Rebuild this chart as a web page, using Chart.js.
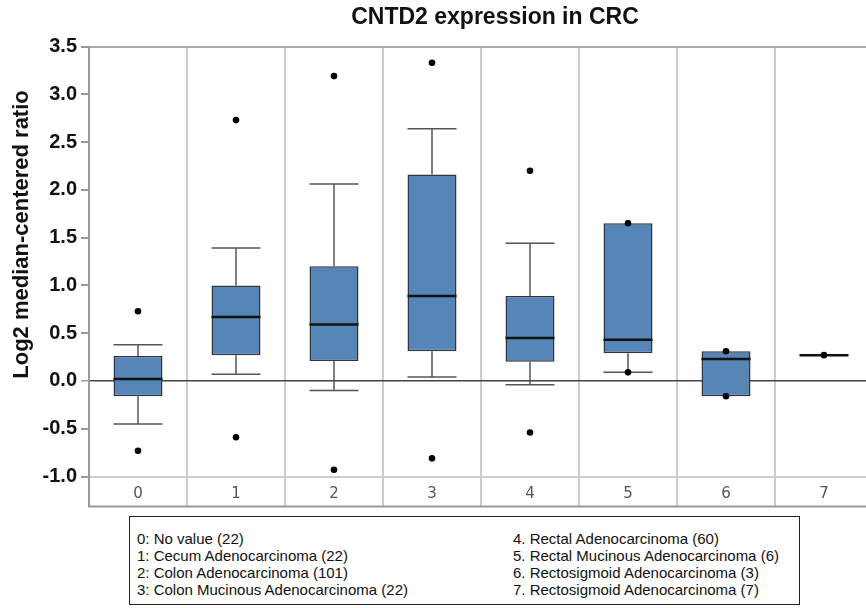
<!DOCTYPE html>
<html>
<head>
<meta charset="utf-8">
<script src="https://cdn.jsdelivr.net/npm/chart.js@4.4.1/dist/chart.umd.min.js"></script>
<style>
html, body { margin: 0; padding: 0; overflow: hidden; background: #fff; width: 866px; height: 608px; }
#wrap { position: absolute; left: 0; top: 0; width: 877px; height: 608px; }
#legend { position: absolute; left: 129px; top: 516px; width: 671px; height: 89px; border: 1.5px solid #222; box-sizing: border-box;
  font-family: 'Liberation Sans', Arial, sans-serif; font-size: 15px; color: #111; background: #fff; }
.col { position: absolute; top: 13px; line-height: 17px; white-space: nowrap; }
</style>
</head>
<body>
<div id="wrap"><canvas id="c"></canvas></div>
<div id="legend"><div class="col" id="colA" style="left:7px"></div><div class="col" id="colB" style="left:383px"></div></div>
<script>
// ---- data ----
const chartTitle = 'CNTD2 expression in CRC';
const yAxisTitle = 'Log2 median-centered ratio';
const categories = ['0', '1', '2', '3', '4', '5', '6', '7'];
const legendLabels = [
  '0: No value (22)',
  '1: Cecum Adenocarcinoma (22)',
  '2: Colon Adenocarcinoma (101)',
  '3: Colon Mucinous Adenocarcinoma (22)',
  '4. Rectal Adenocarcinoma (60)',
  '5. Rectal Mucinous Adenocarcinoma (6)',
  '6. Rectosigmoid Adenocarcinoma (3)',
  '7. Rectosigmoid Adenocarcinoma (7)'
];
const whiskerLow  = [-0.45, 0.07, -0.10, 0.04, -0.04, 0.09, -0.16, 0.27];
const q1          = [-0.16, 0.27,  0.21, 0.31,  0.20, 0.29, -0.16, 0.27];
const median      = [ 0.02, 0.67,  0.59, 0.89,  0.45, 0.43,  0.23, 0.27];
const q3          = [ 0.26, 1.00,  1.20, 2.16,  0.89, 1.65,  0.31, 0.27];
const whiskerHigh = [ 0.38, 1.39,  2.06, 2.64,  1.44, 1.65,  0.31, 0.27];
const pointCategory = ['0', '0', '1', '1', '2', '2', '3', '3', '4', '4', '5', '5', '6', '6', '7'];
const pointValue    = [0.73, -0.73, 2.73, -0.59, 3.19, -0.93, 3.33, -0.81, 2.20, -0.54, 1.65, 0.09, 0.31, -0.16, 0.27];
const yTicks = { min: -1, max: 3.5, step: 0.5 };

// ---- legend box (HTML text) ----
document.getElementById('colA').innerHTML = legendLabels.slice(0, 4).join('<br>');
document.getElementById('colB').innerHTML = legendLabels.slice(4).join('<br>');

const FONT = "'Liberation Sans', Arial, sans-serif";

const boxParts = {
  id: 'boxParts',
  afterDatasetDraw(chart, args) {
    if (args.index !== 1) return;
    const y = chart.scales.y;
    const ctx = chart.ctx;
    ctx.save();
    args.meta.data.forEach((bar, i) => {
      const half = bar.width / 2, cx = bar.x;
      const pLo = y.getPixelForValue(whiskerLow[i]);
      const pQ1 = y.getPixelForValue(q1[i]);
      const pMed = y.getPixelForValue(median[i]);
      const pQ3 = y.getPixelForValue(q3[i]);
      const pHi = y.getPixelForValue(whiskerHigh[i]);
      ctx.strokeStyle = '#555';
      ctx.lineWidth = 1.5;
      ctx.beginPath();
      if (whiskerHigh[i] > q3[i]) {
        ctx.moveTo(cx, pQ3); ctx.lineTo(cx, pHi);
        ctx.moveTo(cx - half, pHi); ctx.lineTo(cx + half, pHi);
      }
      if (whiskerLow[i] < q1[i]) {
        ctx.moveTo(cx, pQ1); ctx.lineTo(cx, pLo);
        ctx.moveTo(cx - half, pLo); ctx.lineTo(cx + half, pLo);
      }
      ctx.stroke();
      ctx.strokeStyle = '#111';
      ctx.lineWidth = 2.5;
      ctx.beginPath();
      ctx.moveTo(cx - half, pMed); ctx.lineTo(cx + half, pMed);
      ctx.stroke();
    });
    ctx.restore();
  }
};

const texts = {
  id: 'texts',
  afterDraw(chart) {
    const ctx = chart.ctx, a = chart.chartArea, xs = chart.scales.x;
    ctx.save();
    // bottom line of the category band
    ctx.strokeStyle = '#999';
    ctx.lineWidth = 2;
    ctx.beginPath();
    ctx.moveTo(a.left - 1, xs.bottom);
    ctx.lineTo(a.right, xs.bottom);
    ctx.stroke();
    // title
    ctx.fillStyle = '#111';
    ctx.textAlign = 'center';
    ctx.textBaseline = 'middle';
    ctx.font = 'bold 23px ' + FONT;
    ctx.fillText(chartTitle, a.left + 406, 18);
    // y-axis title
    ctx.font = 'bold 22px ' + FONT;
    ctx.translate(22, a.top + 188);
    ctx.rotate(-Math.PI / 2);
    ctx.fillText(yAxisTitle, 0, 0);
    ctx.restore();
  }
};

new Chart(document.getElementById('c'), {
  type: 'bar',
  data: {
    labels: categories,
    datasets: [
      {
        type: 'scatter',
        data: pointCategory.map((c, i) => ({ x: c, y: pointValue[i] })),
        backgroundColor: '#000',
        borderWidth: 0,
        pointRadius: 3.3
      },
      {
        type: 'bar',
        data: q1.map((v, i) => [v, q3[i]]),
        backgroundColor: '#5586b7',
        borderColor: '#2e3640',
        borderWidth: 1.5,
        borderSkipped: false,
        categoryPercentage: 1,
        barPercentage: 0.5
      }
    ]
  },
  options: {
    responsive: true,
    maintainAspectRatio: false,
    animation: false,
    layout: { padding: { top: 46.5, bottom: 101.5, left: 0, right: 0 } },
    plugins: { legend: { display: false }, tooltip: { enabled: false }, title: { display: false } },
    scales: {
      x: {
        type: 'category',
        offset: true,
        grid: {
          offset: true,
          color: c => (c.index === 0 ? '#999' : '#cccccc'),
          tickColor: c => (c.index === 0 ? '#999' : '#cccccc'),
          lineWidth: 2,
          tickLength: 30,
          drawTicks: true
        },
        border: { display: true, color: '#cccccc', width: 2 },
        ticks: { color: '#555', font: { family: "'DejaVu Sans', sans-serif", size: 15 }, padding: -21, maxRotation: 0, autoSkip: false },
        afterFit: s => { s.height = 30; }
      },
      y: {
        min: yTicks.min,
        max: yTicks.max,
        ticks: {
          stepSize: yTicks.step,
          callback: v => Number(v).toFixed(1),
          color: '#111',
          font: { family: FONT, size: 20, weight: 'bold' },
          padding: 4
        },
        grid: {
          color: c => {
            if (!c.tick) return 'rgba(0,0,0,0)';
            const v = c.tick.value;
            if (v === 0) return '#444';
            if (v === yTicks.max) return '#aaa';
            if (v === yTicks.min) return '#ccc';
            return 'rgba(0,0,0,0)';
          },
          lineWidth: c => (c.tick && c.tick.value === 0 ? 1.5 : 2),
          tickColor: '#999',
          tickLength: 8,
          drawTicks: true
        },
        border: { display: true, color: '#999', width: 2 },
        afterFit: s => { s.width = 89; }
      }
    }
  },
  plugins: [boxParts, texts]
});
</script>
</body>
</html>
